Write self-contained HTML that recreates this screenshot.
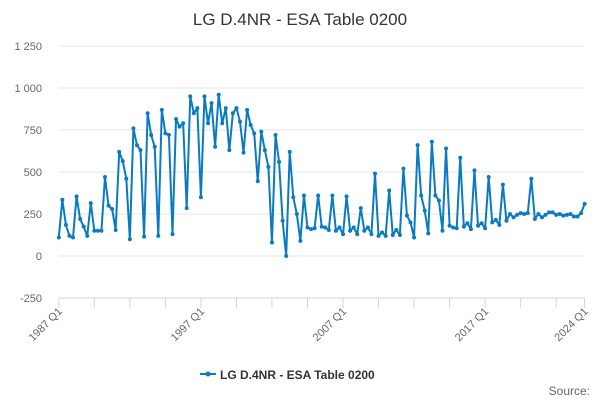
<!DOCTYPE html>
<html><head><meta charset="utf-8"><style>
body{margin:0;background:#fff;font-family:"Liberation Sans",sans-serif}
svg{display:block}
</style></head><body>
<svg id="chart" width="600" height="400">
<text x="300" y="25" text-anchor="middle" font-size="17" fill="#333">LG D.4NR - ESA Table 0200</text>
<g id="grid"></g><g id="xaxis"></g><g id="series"></g>
<g>
<line x1="200" y1="374" x2="216" y2="374" stroke="#0a7ac2" stroke-width="2"/>
<circle cx="208" cy="374" r="2.5" fill="#0a7ac2"/>
<text x="220" y="379" font-size="12" font-weight="bold" fill="#333">LG D.4NR - ESA Table 0200</text>
</g>
<text x="590" y="395" text-anchor="end" font-size="12" fill="#666">Source:</text>
</svg>
<script>
const yTicks=[-250,0,250,500,750,1000,1250];
const xLabels=["1987 Q1","1997 Q1","2007 Q1","2017 Q1","2024 Q1"];
const xLabelIdx=[0,40,80,120,148];
const values=[
110,335,185,120, 110,355,220,175, 120,315,150,150, 150,470,300,280,
155,620,565,460, 100,760,660,630, 115,850,720,650, 120,870,730,720,
130,815,770,790, 285,950,850,880, 350,950,790,910, 650,960,790,880,
630,850,880,800, 615,870,780,730, 445,740,630,530, 80,720,560,210,
0,620,350,250, 90,360,170,160, 165,360,175,170, 155,360,150,170,
130,355,150,170, 130,285,150,170, 130,490,120,140, 120,390,125,155,
125,520,240,200, 110,660,360,270, 135,680,360,330, 150,640,180,170,
165,585,175,195, 160,510,180,195, 165,470,200,215, 185,425,210,250,
230,245,255,250, 255,460,220,250, 230,245,260,260, 245,250,240,245,
250,235,235,255, 310];
const X0=58.8,X1=584.6,Y0=256,PX=42/250;
const xs=i=>X0+(X1-X0)*i/148;
const ys=v=>Y0-v*PX;
const NS="http://www.w3.org/2000/svg";
function mk(t,a,p){const e=document.createElementNS(NS,t);for(const k in a)e.setAttribute(k,a[k]);p.appendChild(e);return e;}
const grid=document.getElementById('grid');
yTicks.forEach(v=>{
 const l=mk('line',{x1:X0,x2:X1,y1:ys(v),y2:ys(v),stroke:v===-250?'#ccd6eb':'#e6e6e6'},grid);
 
 
 const t=mk('text',{x:42,y:ys(v)+4,'text-anchor':'end','font-size':11,fill:'#666'},grid);
 t.textContent=v.toString().replace(/\B(?=(\d{3})+(?!\d))/g,' ');
 
 
});
const xa=document.getElementById('xaxis');
for(let i=0;i<=148;i+=10){const tk=mk('line',{x1:xs(i),x2:xs(i),y1:ys(-250),y2:ys(-250)+10,stroke:'#ccd6eb'},xa);
 
 }
const tk2=mk('line',{x1:xs(148),x2:xs(148),y1:ys(-250),y2:ys(-250)+10,stroke:'#ccd6eb'},xa);


xLabels.forEach((s,k)=>{const x=xs(xLabelIdx[k])+4,y=ys(-250)+14;
 const t=mk('text',{x:x,y:y,'text-anchor':'end','font-size':11,fill:'#666',transform:`rotate(-45 ${x} ${y})`},xa);
 t.textContent=s;
 
 });
const sg=document.getElementById('series');
const pl=mk('polyline',{points:values.map((v,i)=>xs(i)+','+ys(v)).join(' '),fill:'none',stroke:'#0a7ac2','stroke-width':2,'stroke-linejoin':'round'},sg);


values.forEach((v,i)=>{const c=mk('circle',{cx:xs(i),cy:ys(v),r:2,fill:'#0a7ac2'},sg);
 
 });
</script>
</body></html>
